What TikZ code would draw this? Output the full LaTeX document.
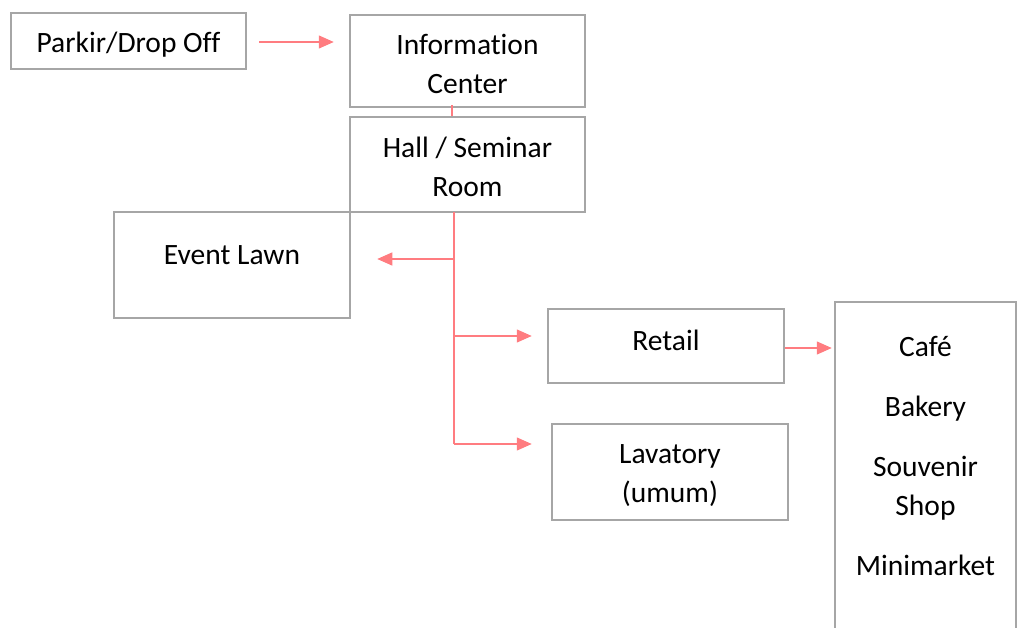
\documentclass[tikz,border=0pt]{standalone}
\usepackage{fontspec}
\setmainfont{Carlito}[Ligatures=NoCommon]
\usetikzlibrary{arrows.meta}
\definecolor{boxgray}{HTML}{A6A6A6}
\definecolor{salmon}{HTML}{FF7C80}
\begin{document}
\begin{tikzpicture}[x=1pt,y=-1pt,
  txt/.style={align=center, font=\fontsize{29.5}{39}\selectfont, inner sep=0pt},
  box/.style={draw=boxgray, line width=2.5pt, rectangle, inner sep=0pt},
  conn/.style={draw=salmon, line width=1.3pt, -{Triangle[length=15pt,width=13pt]}},
  plain/.style={draw=salmon, line width=1.3pt}]
\useasboundingbox (0,0) rectangle (1018,628);

\node[box, minimum width=235pt, minimum height=56pt,
      label={[txt, yshift=-4pt]center:Parkir/Drop Off}] (park) at (128.5,41) {};
\node[box, minimum width=235pt, minimum height=92pt,
      label={[txt, yshift=-3pt]center:Information\\Center}] (info) at (467.5,61) {};
\node[box, minimum width=235pt, minimum height=95pt,
      label={[txt, yshift=-2.5pt]center:Hall / Seminar\\Room}] (hall) at (467.5,164.5) {};
\node[box, minimum width=236pt, minimum height=106pt,
      label={[txt, yshift=10pt]center:Event Lawn}] (lawn) at (232,265) {};
\node[box, minimum width=236pt, minimum height=74pt,
      label={[txt, yshift=6pt]center:Retail}] (retail) at (666,346) {};
\node[box, minimum width=236pt, minimum height=96pt,
      label={[txt, yshift=-4pt]center:Lavatory\\(umum)}] (lav) at (670,472) {};
\node[box, minimum width=181pt, minimum height=378pt,
      label={[txt, yshift=35pt]center:Café\\[21pt]Bakery\\[21pt]Souvenir\\Shop\\[21pt]Minimarket}] (shops) at (925.5,491) {};

\coordinate (top) at (454,212);
\coordinate (jL) at (454,259);
\coordinate (jR) at (454,336);
\coordinate (jV) at (454,444);

\draw[conn, shorten <=12pt, shorten >=15pt] ([yshift=-1pt]park.east) -- ([yshift=-1pt]park.east -| info.west);
\draw[plain] ([xshift=-15.5pt,yshift=3pt]info.south) -- ([xshift=-15.5pt]hall.north);
\draw[plain] (top) -- (jV);
\draw[conn, shorten >=26pt] (jL) -- (jL -| lawn.east);
\draw[conn, shorten >=15pt] (jR) -- (jR -| retail.west);
\draw[conn, shorten >=19pt] (jV) -- (jV -| lav.west);
\draw[conn, shorten >=2pt] ([yshift=-2pt]retail.east) -- ([yshift=-2pt]retail.east -| shops.west);
\end{tikzpicture}
\end{document}
